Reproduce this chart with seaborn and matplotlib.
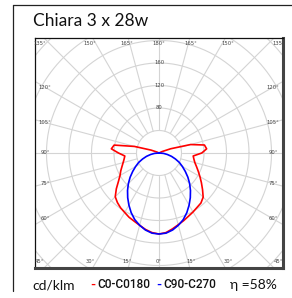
import numpy as np
import pandas as pd
import matplotlib
matplotlib.use('Agg')
import matplotlib.pyplot as plt
import seaborn as sns
from matplotlib.lines import Line2D

# photometric data (cd/klm), gamma 0 = straight down
angles_red = list(range(0, 125, 5))
red_c0 = [144, 142, 137, 132, 128, 124, 121, 118, 116, 111, 101, 92, 84,
          77, 71, 66, 63, 61, 76, 85, 82, 58, 22, 6, 0]
red_c180 = [144, 142, 138, 133, 129, 126, 122, 119, 115, 110, 99, 88, 80,
            75, 70, 66, 63, 61, 72, 85, 81, 45, 15, 4, 0]
angles_blue = list(range(0, 95, 5))
blue_c90 = [144, 143, 139, 133, 126, 117, 107, 97, 87, 77, 67, 57, 48,
            40, 31, 23, 15, 8, 0]
blue_c270 = [144, 143, 139, 133, 126, 117, 107, 97, 87, 77, 67, 57, 48,
             40, 31, 23, 15, 8, 0]

ring_values = [40, 80, 120, 160, 200, 240, 280]
ring_labels = [80, 120, 160]
top_angles = [135, 150, 165, 180]
side_angles = [120, 105, 90, 75, 60]
bottom_angles = [45, 30, 15, 0]

title = 'Chiara 3 x 28w'
unit_text = 'cd/klm'
series_names = ['C0-C0180', 'C90-C270']
eta_text = 'η =58%'


def to_xy(gamma, r, side):
    g = np.radians(np.asarray(gamma, dtype=float))
    r = np.asarray(r, dtype=float)
    return side * r * np.sin(g), -r * np.cos(g)


rows = []
# red: C0 side from the top down to nadir, then the C180 side back up
x, y = to_xy(angles_red[::-1], red_c0[::-1], 1)
rows += [(a, b, series_names[0]) for a, b in zip(x, y)]
x, y = to_xy(angles_red, red_c180, -1)
rows += [(a, b, series_names[0]) for a, b in zip(x, y)]
x, y = to_xy(angles_blue[::-1], blue_c90[::-1], 1)
rows += [(a, b, series_names[1]) for a, b in zip(x, y)]
x, y = to_xy(angles_blue, blue_c270, -1)
rows += [(a, b, series_names[1]) for a, b in zip(x, y)]
df = pd.DataFrame(rows, columns=['x', 'y', 'curve'])

sns.set_style('white')
plt.rcParams['font.family'] = ['Lato', 'DejaVu Sans']

W, H = 292, 298
fig = plt.figure(figsize=(W / 100, H / 100), dpi=100)
ax = fig.add_axes([35 / W, 30 / H, 248 / W, 230 / H])
XL, YL = 220.4, 204.4

grid_c = '#d4d4d4'
t = np.linspace(0, 2 * np.pi, 361)
for r in ring_values:
    ax.plot(r * np.cos(t), r * np.sin(t), color=grid_c, lw=0.8, zorder=1)
for a in range(0, 360, 15):
    ar = np.radians(a)
    ax.plot([40 * np.sin(ar), 400 * np.sin(ar)], [-40 * np.cos(ar), -400 * np.cos(ar)],
            color=grid_c, lw=0.8, zorder=1)

sns.lineplot(data=df, x='x', y='y', hue='curve', sort=False, estimator=None,
             palette={series_names[0]: '#ff0000', series_names[1]: '#0000ff'},
             lw=1.2, legend=False, ax=ax, zorder=3)

lab_kw = dict(fontsize=3.8, color='#444444', ha='center', va='center',
              family=['DejaVu Sans'], zorder=4)
for v in ring_labels:
    ax.text(0, v, str(v), **lab_kw)
K = 212
for g in top_angles:
    off = K * np.tan(np.radians(180 - g))
    ax.text(-off, 193.8, f'{g}°', **lab_kw)
    if off > 0:
        ax.text(off, 193.8, f'{g}°', **lab_kw)
for g in side_angles:
    yy = 202.7 * np.tan(np.radians(g - 90))
    ax.text(-202.7, yy, f'{g}°', **lab_kw)
    ax.text(202.7, yy, f'{g}°', **lab_kw)
for g in bottom_angles:
    off = K * np.tan(np.radians(g))
    ax.text(-off, -192, f'{g}°', **lab_kw)
    if off > 0:
        ax.text(off, -192, f'{g}°', **lab_kw)

ax.set_xlim(-XL, XL)
ax.set_ylim(-YL, YL)
ax.set_xticks([])
ax.set_yticks([])
ax.set_xlabel('')
ax.set_ylabel('')
for s in ['left', 'top']:
    ax.spines[s].set_color('#111111')
    ax.spines[s].set_linewidth(0.9)
for s in ['right', 'bottom']:
    ax.spines[s].set_color('#444444')
    ax.spines[s].set_linewidth(2.2)

# outer frame (top and left edges only)
fig.add_artist(Line2D([13 / W, 1], [1 - 5 / H, 1 - 5 / H], color='#222222', lw=0.9,
                      transform=fig.transFigure))
fig.add_artist(Line2D([13 / W, 13 / W], [1 - 5 / H, 1 - 291 / H], color='#222222', lw=0.9,
                      transform=fig.transFigure))

fig.text(33 / W, 1 - 21 / H, title, fontsize=12.5, va='center', ha='left', color='#111111')

fy = 1 - 285 / H
narrow = dict(fontsize=8.5, fontweight='medium', va='center', ha='left',
              family=['Roboto', 'DejaVu Sans'], color='#111111')
fig.text(32 / W, fy, unit_text, fontsize=10, va='center', ha='left', color='#111111')
fig.text(90 / W, fy, '-', fontsize=10, fontweight='bold', va='center', color='#ff0000')
fig.text(97 / W, fy, series_names[0], **narrow)
fig.text(156 / W, fy, '-', fontsize=10, fontweight='bold', va='center', color='#0000ff')
fig.text(163 / W, fy, series_names[1], **narrow)
fig.text(230 / W, fy, eta_text, fontsize=10, va='center', ha='left', color='#111111')

fig.savefig('out.png', dpi=100)
